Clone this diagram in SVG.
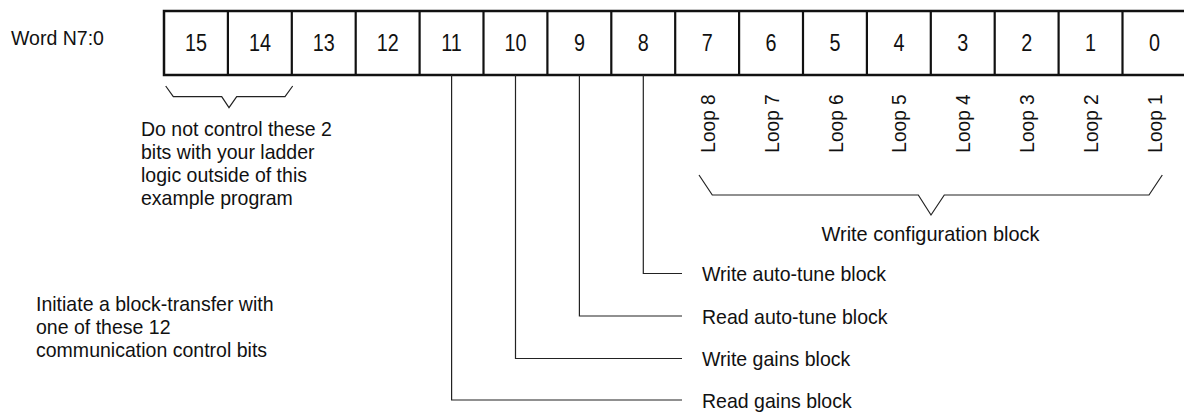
<svg xmlns="http://www.w3.org/2000/svg" width="1184" height="415" viewBox="0 0 1184 415">
<style>
text{font-family:"Liberation Sans",Arial,sans-serif;fill:#111;font-size:21px}
.num{font-size:23px;text-anchor:middle}
.loop{font-size:20.5px;text-anchor:middle}
.cell{fill:#fff;stroke:#111;stroke-width:2.5}
.ln{fill:none;stroke:#222;stroke-width:1.2}
</style>
<rect width="1184" height="415" fill="#fff"/>
<g id="word-label"><text transform="translate(11 45) scale(0.93 1)">Word N7:0</text></g>
<g id="word">
<rect class="cell" x="164" y="11" width="1030" height="64"/>
<path d="M227.9 11V75M291.8 11V75M355.7 11V75M419.6 11V75M483.5 11V75M547.4 11V75M611.3 11V75M675.2 11V75M739.1 11V75M803 11V75M866.9 11V75M930.8 11V75M994.7 11V75M1058.6 11V75M1122.5 11V75" stroke="#111" stroke-width="2.2" fill="none"/>
<text class="num" transform="translate(196 50.5) scale(0.86 1)">15</text>
<text class="num" transform="translate(259.9 50.5) scale(0.86 1)">14</text>
<text class="num" transform="translate(323.8 50.5) scale(0.86 1)">13</text>
<text class="num" transform="translate(387.7 50.5) scale(0.86 1)">12</text>
<text class="num" transform="translate(451.6 50.5) scale(0.86 1)">11</text>
<text class="num" transform="translate(515.5 50.5) scale(0.86 1)">10</text>
<text class="num" transform="translate(579.4 50.5) scale(0.86 1)">9</text>
<text class="num" transform="translate(643.3 50.5) scale(0.86 1)">8</text>
<text class="num" transform="translate(707.2 50.5) scale(0.86 1)">7</text>
<text class="num" transform="translate(771.1 50.5) scale(0.86 1)">6</text>
<text class="num" transform="translate(835 50.5) scale(0.86 1)">5</text>
<text class="num" transform="translate(898.9 50.5) scale(0.86 1)">4</text>
<text class="num" transform="translate(962.8 50.5) scale(0.86 1)">3</text>
<text class="num" transform="translate(1026.7 50.5) scale(0.86 1)">2</text>
<text class="num" transform="translate(1090.6 50.5) scale(0.86 1)">1</text>
<text class="num" transform="translate(1154.5 50.5) scale(0.86 1)">0</text>
</g>
<g id="loops">
<text class="loop" transform="translate(714.7 123.5) rotate(-90) scale(0.93 1)">Loop 8</text>
<text class="loop" transform="translate(778.6 123.5) rotate(-90) scale(0.93 1)">Loop 7</text>
<text class="loop" transform="translate(842.5 123.5) rotate(-90) scale(0.93 1)">Loop 6</text>
<text class="loop" transform="translate(906.4 123.5) rotate(-90) scale(0.93 1)">Loop 5</text>
<text class="loop" transform="translate(970.3 123.5) rotate(-90) scale(0.93 1)">Loop 4</text>
<text class="loop" transform="translate(1034.2 123.5) rotate(-90) scale(0.93 1)">Loop 3</text>
<text class="loop" transform="translate(1098.1 123.5) rotate(-90) scale(0.93 1)">Loop 2</text>
<text class="loop" transform="translate(1162 123.5) rotate(-90) scale(0.93 1)">Loop 1</text>
</g>
<g id="connectors">
<path class="ln" d="M165.7 86L173.3 96.7H221.7L229 107.7L236.7 96.7H285L292.7 86"/>
<path class="ln" d="M699 175L712.3 195H918.3L931 215L944.3 195H1149L1162.3 175"/>
<path class="ln" d="M643.3 75V273.5H682"/>
<path class="ln" d="M579.4 75V316H682"/>
<path class="ln" d="M515.5 75V358.5H682" stroke="#555"/>
<path class="ln" d="M451.6 75V400H682" stroke="#555"/>
</g>
<g id="note-top">
<text transform="translate(141 136) scale(0.93 1)">Do not control these 2</text>
<text transform="translate(141 159) scale(0.93 1)">bits with your ladder</text>
<text transform="translate(141 182) scale(0.93 1)">logic outside of this</text>
<text transform="translate(141 205) scale(0.93 1)">example program</text>
</g>
<g id="note-left">
<text transform="translate(36 311) scale(0.93 1)">Initiate a block-transfer with</text>
<text transform="translate(36 334) scale(0.93 1)">one of these 12</text>
<text transform="translate(36 357) scale(0.93 1)">communication control bits</text>
</g>
<g id="config-label"><text text-anchor="middle" transform="translate(930.5 241) scale(0.95 1)">Write configuration block</text></g>
<g id="bit8-label"><text transform="translate(702 281) scale(0.93 1)">Write auto-tune block</text></g>
<g id="bit9-label"><text transform="translate(702 323.5) scale(0.93 1)">Read auto-tune block</text></g>
<g id="bit10-label"><text transform="translate(702 366) scale(0.93 1)">Write gains block</text></g>
<g id="bit11-label"><text transform="translate(702 407.5) scale(0.93 1)">Read gains block</text></g>
</svg>
